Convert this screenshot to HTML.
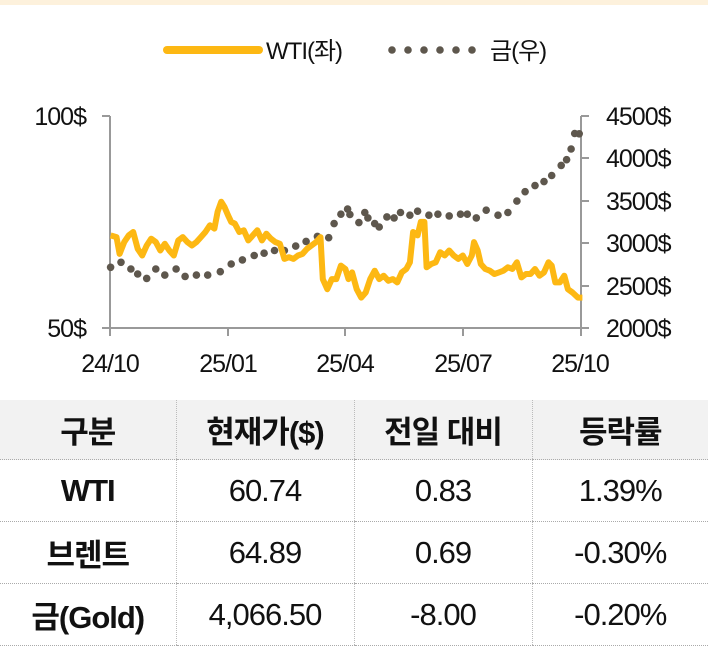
<!DOCTYPE html>
<html><head><meta charset="utf-8"><style>
body{margin:0;width:708px;height:646px;background:#fff;overflow:hidden;font-family:"Liberation Sans","Noto Sans CJK KR",sans-serif;position:relative}
.top{position:absolute;left:0;top:0;width:708px;height:5px;background:#fdf1dc}
table{position:absolute;left:0;top:400px;width:708px;border-collapse:collapse;table-layout:fixed}
td{height:61px;text-align:center;font-size:31px;color:#111;padding:0;border-left:1px dotted #bbb;border-bottom:1px dotted #aaa;letter-spacing:-1px}
td:first-child{border-left:none;font-weight:bold}
tr.h td{background:#f2f2f2;font-weight:bold;height:59px}
</style></head><body>
<div class="top"></div>
<svg id="s" width="708" height="400" style="position:absolute;left:0;top:0" font-family="Liberation Sans, Noto Sans CJK KR, sans-serif">
<line x1="167" y1="50" x2="259" y2="50" stroke="#fdb813" stroke-width="8" stroke-linecap="round"/>
<text x="266" y="59" font-size="24" fill="#111" letter-spacing="-1">WTI(좌)</text>
<g fill="#5e574d"><circle cx="392" cy="50" r="3.8"/><circle cx="408" cy="50" r="3.8"/><circle cx="424" cy="50" r="3.8"/><circle cx="440" cy="50" r="3.8"/><circle cx="456" cy="50" r="3.8"/><circle cx="472" cy="50" r="3.8"/></g>
<text x="490" y="59" font-size="24" fill="#111" letter-spacing="-1">금(우)</text>
<g stroke="#999" stroke-width="2" fill="none">
<line x1="110" y1="116" x2="110" y2="336"/><line x1="581" y1="116" x2="581" y2="336"/>
<line x1="102" y1="116" x2="110" y2="116"/><line x1="102" y1="328" x2="581" y2="328"/>
<line x1="581" y1="116" x2="589" y2="116"/><line x1="581" y1="158" x2="589" y2="158"/><line x1="581" y1="201" x2="589" y2="201"/><line x1="581" y1="243" x2="589" y2="243"/><line x1="581" y1="286" x2="589" y2="286"/><line x1="581" y1="328" x2="589" y2="328"/>
<line x1="228" y1="328" x2="228" y2="336"/><line x1="345" y1="328" x2="345" y2="336"/><line x1="463" y1="328" x2="463" y2="336"/>
</g>
<g font-size="25" fill="#111" letter-spacing="-1">
<text x="86" y="125" text-anchor="end">100$</text><text x="86" y="337" text-anchor="end">50$</text>
<text x="606" y="125">4500$</text><text x="606" y="167">4000$</text><text x="606" y="210">3500$</text><text x="606" y="252">3000$</text><text x="606" y="295">2500$</text><text x="606" y="337">2000$</text>
<text x="110" y="372" text-anchor="middle">24/10</text><text x="228" y="372" text-anchor="middle">25/01</text><text x="345" y="372" text-anchor="middle">25/04</text><text x="463" y="372" text-anchor="middle">25/07</text><text x="580" y="372" text-anchor="middle">25/10</text>
</g>
<g id="gold" fill="#5e574d"></g>
<polyline id="wti" fill="none" stroke="#fdb813" stroke-width="6" stroke-linejoin="round"/>
</svg>
<table>
<colgroup><col style="width:176px"><col style="width:178px"><col style="width:178px"><col style="width:176px"></colgroup>
<tr class="h"><td>구분</td><td>현재가($)</td><td>전일 대비</td><td>등락률</td></tr>
<tr><td>WTI</td><td>60.74</td><td>0.83</td><td>1.39%</td></tr>
<tr><td>브렌트</td><td>64.89</td><td>0.69</td><td>-0.30%</td></tr>
<tr><td>금(Gold)</td><td>4,066.50</td><td>-8.00</td><td>-0.20%</td></tr>
</table>
<script>
var sx=1/2.215,sy=1/2.974;
var w=[245,700,258,705,265,755,275,720,285,700,295,690,305,740,315,760,325,730,335,710,345,720,355,745,365,725,375,745,385,760,395,715,405,705,415,720,425,730,435,720,445,705,455,690,465,670,475,680,482,630,490,600,497,615,505,640,512,660,520,665,530,690,540,685,550,715,560,700,570,685,580,715,590,695,600,710,610,720,620,725,630,770,640,765,650,770,660,760,670,755,680,740,690,730,700,720,710,705,715,830,725,860,735,830,745,830,755,790,765,800,772,830,780,810,790,860,800,885,810,870,820,830,830,805,840,830,850,820,860,835,870,830,880,840,890,810,900,800,908,780,915,690,925,700,932,660,940,660,945,795,955,785,965,780,975,750,985,760,995,745,1005,760,1015,770,1025,760,1035,785,1045,760,1050,720,1058,745,1065,785,1075,800,1085,805,1095,815,1105,810,1115,805,1125,795,1135,800,1145,780,1155,825,1165,815,1175,815,1185,800,1195,820,1205,810,1215,780,1222,790,1230,840,1240,840,1250,820,1258,860,1268,870,1280,885,1290,885];
var p=[];for(var i=0;i<w.length;i+=2)p.push((w[i]*sx).toFixed(1)+","+(w[i+1]*sy).toFixed(1));
document.getElementById('wti').setAttribute('points',p.join(' '));
var g=[245,795,268,780,290,800,305,815,325,828,345,800,365,818,390,800,410,822,435,818,460,818,488,808,512,785,537,773,563,760,585,753,608,745,630,745,655,732,678,718,703,703,728,707,740,665,755,637,770,622,775,638,795,662,808,632,815,648,830,665,840,675,857,645,873,648,887,632,908,640,925,628,950,640,970,637,995,642,1020,637,1035,637,1055,648,1077,625,1103,640,1125,632,1145,598,1163,570,1185,552,1205,540,1222,522,1243,492,1255,475,1265,443,1273,397,1283,398];
var h='';for(var i=0;i<g.length;i+=2)h+='<circle cx="'+(g[i]*sx).toFixed(1)+'" cy="'+(g[i+1]*sy).toFixed(1)+'" r="3.8"/>';
document.getElementById('gold').innerHTML=h;
</script>
</body></html>
